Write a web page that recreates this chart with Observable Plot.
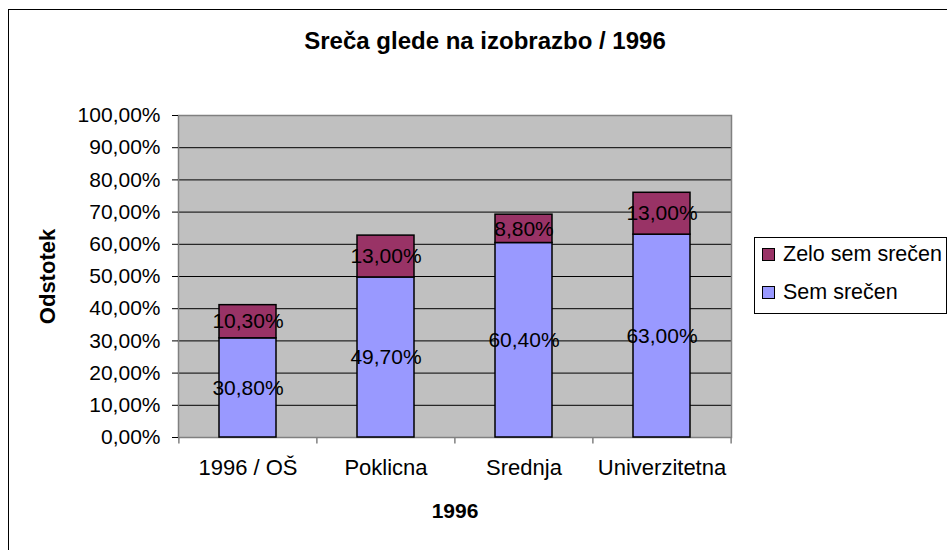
<!DOCTYPE html>
<html>
<head>
<meta charset="utf-8">
<script src="https://cdn.jsdelivr.net/npm/d3@7"></script>
<script src="https://cdn.jsdelivr.net/npm/@observablehq/plot@0.6"></script>
<style>
  html, body { margin: 0; padding: 0; background: white; overflow: hidden; }
  #wrap { position: relative; width: 947px; height: 550px; overflow: hidden; font-family: "Liberation Sans", Arial, sans-serif; }
  #chart { position: absolute; left: 0; top: 0; }
  #border { position: absolute; left: 8px; top: 9px; width: 1000px; height: 600px; border-left: 1.5px solid #000; border-top: 1.5px solid #000; }
  #legend { position: absolute; left: 754px; top: 237px; width: 191px; height: 75px; border: 1px solid #000; background: white; font-size: 21.5px; color: #000; }
  .item { position: absolute; left: 7px; display: flex; align-items: center; white-space: nowrap; }
  .sw { width: 11px; height: 11px; border: 1px solid #000; margin-right: 8px; }
</style>
</head>
<body>
<div id="wrap">
  <div id="chart"></div>
  <div id="border"></div>
  <div id="legend"></div>
</div>
<script>
const categories = ["1996 / OŠ", "Poklicna", "Srednja", "Univerzitetna"];
const semSrecen = [30.8, 49.7, 60.4, 63.0];
const zeloSemSrecen = [10.3, 13.0, 8.8, 13.0];
const seriesNames = ["Sem srečen", "Zelo sem srečen"];
const seriesColors = ["#9999FF", "#993366"];
const legendOrder = ["Zelo sem srečen", "Sem srečen"];
const yTicks = [0, 10, 20, 30, 40, 50, 60, 70, 80, 90, 100];
const titleText = "Sreča glede na izobrazbo / 1996";
const yLabel = "Odstotek";
const xLabel = "1996";

const fmt = v => v.toFixed(2).replace(".", ",") + "%";

const rows = [];
[semSrecen, zeloSemSrecen].forEach((vals, si) => {
  vals.forEach((v, i) => rows.push({cat: categories[i], series: seriesNames[si], value: v}));
});

const W = 947, H = 550;
const mL = 178, mR = 216, mT = 115, mB = 113;
const step = (W - mL - mR) / categories.length;

const chart = Plot.plot({
  width: W,
  height: H,
  marginLeft: mL,
  marginRight: mR,
  marginTop: mT,
  marginBottom: mB,
  style: {background: "transparent", fontFamily: "'Liberation Sans', Arial, sans-serif", fontSize: "21px", color: "#000"},
  x: {domain: categories, paddingInner: 0.59, paddingOuter: 0.295, label: null},
  y: {domain: [0, 100], label: null},
  color: {domain: seriesNames, range: seriesColors},
  marks: [
    Plot.frame({fill: "#C0C0C0"}),
    Plot.gridY(yTicks.slice(1, -1), {stroke: "#000", strokeOpacity: 1, strokeWidth: 1}),
    Plot.frame({stroke: "#808080", strokeWidth: 1.5}),
    Plot.barY(rows, {x: "cat", y: "value", fill: "series", stroke: "#000", strokeWidth: 1.5}),
    Plot.text(rows, Plot.stackY({x: "cat", y: "value", text: d => fmt(d.value), fill: "#000", fontSize: 21})),
    Plot.axisY({ticks: yTicks, tickFormat: fmt, tickSize: 6, tickPadding: 12, fontSize: 21, stroke: "#000", label: null}),
    Plot.axisX({tickSize: 0, tickPadding: 22, fontSize: 22, label: null}),
    Plot.ruleX(categories, {x: d => d, y1: 0, y2: -2, dx: -step / 2, stroke: "#808080", strokeWidth: 1.5}),
    Plot.ruleX(categories.slice(-1), {x: d => d, y1: 0, y2: -2, dx: step / 2, stroke: "#808080", strokeWidth: 1.5}),
    Plot.text([titleText], {text: d => d, frameAnchor: "top", lineAnchor: "middle", dy: -74, dx: 30, fontSize: 24, fontWeight: "bold", fill: "#000"}),
    Plot.text([yLabel], {text: d => d, frameAnchor: "left", textAnchor: "middle", lineAnchor: "middle", dx: -131, rotate: -90, fontSize: 22, fontWeight: "bold", fill: "#000"}),
    Plot.text([xLabel], {text: d => d, frameAnchor: "bottom", lineAnchor: "middle", dy: 74, fontSize: 21, fontWeight: "bold", fill: "#000"})
  ]
});
document.getElementById("chart").appendChild(chart);

const legend = document.getElementById("legend");
legendOrder.forEach((name, i) => {
  const item = document.createElement("div");
  item.className = "item";
  item.style.top = (i === 0 ? 4 : 42) + "px";
  const sw = document.createElement("div");
  sw.className = "sw";
  sw.style.background = seriesColors[seriesNames.indexOf(name)];
  const lab = document.createElement("span");
  lab.textContent = name;
  item.appendChild(sw);
  item.appendChild(lab);
  legend.appendChild(item);
});
</script>
</body>
</html>
